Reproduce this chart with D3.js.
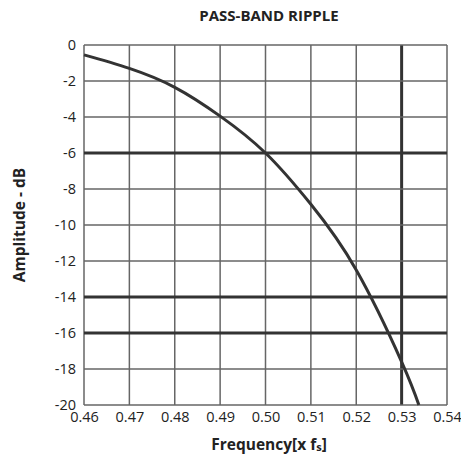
<!DOCTYPE html>
<html>
<head>
<meta charset="utf-8">
<script src="https://cdn.jsdelivr.net/npm/d3@7"></script>
<style>
  body { margin: 0; background: #fff; }
  text { font-family: "Open Sans", sans-serif; fill: #222; }
</style>
</head>
<body>
<div id="main"></div>
<script>
// curve
const freq = [0.46, 0.47, 0.48, 0.49, 0.50, 0.51, 0.52, 0.53, 0.5338];
const ampl = [-0.55, -1.3, -2.35, -3.95, -6, -8.85, -12.5, -17.6, -20];

const xTicks = [0.46, 0.47, 0.48, 0.49, 0.50, 0.51, 0.52, 0.53, 0.54];
const yTicks = [0, -2, -4, -6, -8, -10, -12, -14, -16, -18, -20];
const yBold = [-6, -14, -16];
const xBold = [0.53];

const width = 461;
const height = 457;
const margin = {top: 45, right: 14, bottom: 52, left: 84};

const svg = d3.select('#main')
  .append('svg')
  .attr('width', width)
  .attr('height', height);

const x = d3.scaleLinear().domain([0.46, 0.54]).range([margin.left, width - margin.right]);
const y = d3.scaleLinear().domain([0, -20]).range([margin.top, height - margin.bottom]);

// grid
const grid = svg.append('g');
grid.selectAll('.vline')
  .data(xTicks)
  .enter()
  .append('line')
  .attr('x1', d => x(d)).attr('x2', d => x(d))
  .attr('y1', y(0)).attr('y2', y(-20))
  .attr('stroke', d => xBold.includes(d) ? '#333' : '#666')
  .attr('stroke-width', d => xBold.includes(d) ? 3 : 1.5);

grid.selectAll('.hline')
  .data(yTicks)
  .enter()
  .append('line')
  .attr('y1', d => y(d)).attr('y2', d => y(d))
  .attr('x1', x(0.46)).attr('x2', x(0.54))
  .attr('stroke', d => yBold.includes(d) ? '#333' : '#666')
  .attr('stroke-width', d => yBold.includes(d) ? 3 : 1.5);

// axes labels
const xAxis = d3.axisBottom(x).tickValues(xTicks).tickSize(0).tickPadding(7).tickFormat(d3.format('.2f'));
svg.append('g')
  .attr('transform', `translate(0,${y(-20)})`)
  .call(xAxis)
  .call(g => g.select('.domain').remove())
  .selectAll('text')
  .style('font-size', '14.5px')
  .style('font-family', '"Open Sans", sans-serif')
  .attr('fill', '#222');

const yAxis = d3.axisLeft(y).tickValues(yTicks).tickSize(0).tickPadding(8).tickFormat(d => String(d));
svg.append('g')
  .attr('transform', `translate(${x(0.46)},0)`)
  .call(yAxis)
  .call(g => g.select('.domain').remove())
  .selectAll('text')
  .style('font-size', '14.5px')
  .style('font-family', '"Open Sans", sans-serif')
  .attr('dy', '0.28em')
  .attr('fill', '#222');

// curve
const line = d3.line()
  .x((d, i) => x(freq[i]))
  .y(d => y(d))
  .curve(d3.curveNatural);

svg.append('path')
  .datum(ampl)
  .attr('d', line)
  .attr('fill', 'none')
  .attr('stroke', '#333')
  .attr('stroke-width', 3);

// titles
svg.append('text')
  .attr('x', 269).attr('y', 21)
  .attr('text-anchor', 'middle')
  .style('font-size', '15px')
  .style('font-weight', 'bold')
  .text('PASS-BAND RIPPLE');

const xl = svg.append('text')
  .attr('x', 269).attr('y', 450)
  .attr('text-anchor', 'middle')
  .style('font-size', '15.5px')
  .style('font-weight', 'bold');
xl.append('tspan').text('Frequency[x f');
xl.append('tspan').style('font-size', '11px').attr('dy', 1).text('s');
xl.append('tspan').attr('dy', -1).text(']');

svg.append('text')
  .attr('transform', `translate(25,${y(-10)}) rotate(-90)`)
  .attr('text-anchor', 'middle')
  .style('font-size', '15.5px')
  .style('font-weight', 'bold')
  .text('Amplitude - dB');
</script>
</body>
</html>
